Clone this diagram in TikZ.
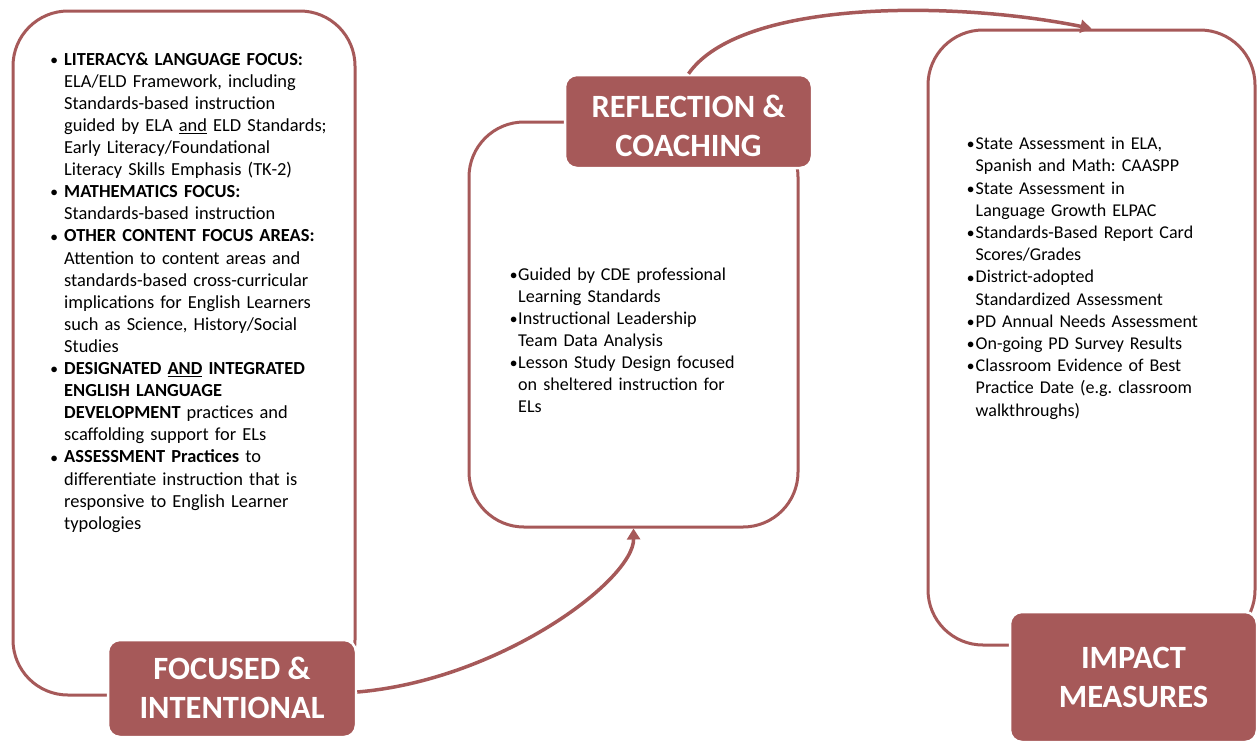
\documentclass[tikz,border=0pt]{standalone}
\usepackage{fontspec}
\setmainfont{Carlito}
\usetikzlibrary{arrows.meta}
\definecolor{brick}{RGB}{166,89,89}
\newcommand\bul[2]{\makebox[#1][l]{\hspace{#2}\raisebox{0.8pt}{\fontsize{14}{14}\selectfont$\bullet$}}}
\newcommand\ind[1]{\hspace*{#1}}
\tikzset{
  outline/.style={draw=brick, line width=3pt, rounded corners=55pt, inner sep=0pt},
  tag/.style={fill=brick, draw=white, line width=2.5pt, rounded corners=12pt, inner sep=0pt},
  tagtext/.style={text=white, font=\bfseries\fontsize{32.5}{39}\selectfont, align=center, inner sep=0pt},
  body/.style={anchor=north west, align=left, inner sep=0pt, text width=340pt,
    font=\fontsize{18.4}{22.1}\selectfont\frenchspacing},
  flow/.style={draw=brick, line width=3.5pt, -{Triangle[width=13pt,length=11pt]}},
}
\begin{document}
\begin{tikzpicture}[x=1pt,y=-1pt]
\useasboundingbox (0,0) rectangle (1257,740);
% outlines
\node[outline, minimum width=342pt, minimum height=684pt] (lbox) at (184,353) {};
\node[outline, minimum width=329pt, minimum height=405pt] (mbox) at (633.5,324.5) {};
\node[outline, minimum width=327pt, minimum height=615pt] (rbox) at (1091.5,337.5) {};
% labels
\node[tag, minimum width=248pt, minimum height=97pt] (fi) at (232,688.5) {};
\node[tagtext] (fit) at (232,688) {FOCUSED \&\\INTENTIONAL};
\node[tag, minimum width=247pt, minimum height=93pt] (rc) at (688.5,121.5) {};
\node[tagtext] (rct) at (688.5,125.5) {REFLECTION \&\\COACHING};
\node[tag, minimum width=247pt, minimum height=130pt] (im) at (1133.5,677) {};
\node[tagtext] (imt) at (1133.5,677) {IMPACT\\MEASURES};
% connectors
\draw[flow] ([yshift=-3.5pt]fi.east) .. controls (500,680) and (634,580) .. (mbox.south);
\draw[flow] (rc.north) .. controls (740,0) and (950,0) .. (rbox.north);
% texts
\node[body] (lt) at (52,49.5) {\strut\bul{12pt}{-1.5pt}\textbf{LITERACY\& LANGUAGE FOCUS:}\\
\ind{12pt}ELA/ELD Framework, including\\
\ind{12pt}Standards-based instruction\\
\ind{12pt}guided by ELA \underline{and} ELD Standards;\\
\ind{12pt}Early Literacy/Foundational\\
\ind{12pt}Literacy Skills Emphasis (TK-2)\\
\bul{12pt}{-1.5pt}\textbf{MATHEMATICS FOCUS:}\\
\ind{12pt}Standards-based instruction\\
\bul{12pt}{-1.5pt}\textbf{OTHER CONTENT FOCUS AREAS:}\\
\ind{12pt}Attention to content areas and\\
\ind{12pt}standards-based cross-curricular\\
\ind{12pt}implications for English Learners\\
\ind{12pt}such as Science, History/Social\\
\ind{12pt}Studies\\
\bul{12pt}{-1.5pt}\textbf{DESIGNATED \underline{AND} INTEGRATED}\\
\ind{12pt}\textbf{ENGLISH LANGUAGE}\\
\ind{12pt}\textbf{DEVELOPMENT} practices and\\
\ind{12pt}scaffolding support for ELs\\
\bul{12pt}{-1.5pt}\textbf{ASSESSMENT Practices} to\\
\ind{12pt}differentiate instruction that is\\
\ind{12pt}responsive to English Learner\\
\ind{12pt}typologies};
\node[body, font=\fontsize{18.1}{22.1}\selectfont\frenchspacing] (mt) at (511,264.5) {\strut\bul{7pt}{-1pt}Guided by CDE professional\\
\ind{7pt}Learning Standards\\
\bul{7pt}{-1pt}Instructional Leadership\\
\ind{7pt}Team Data Analysis\\
\bul{7pt}{-1pt}Lesson Study Design focused\\
\ind{7pt}on sheltered instruction for\\
\ind{7pt}ELs};
\node[body, font=\fontsize{18.0}{22.2}\selectfont\frenchspacing] (rt) at (969,134) {\strut\bul{6.5pt}{-2pt}State Assessment in ELA,\\
\ind{6.5pt}Spanish and Math: CAASPP\\
\bul{6.5pt}{-2pt}State Assessment in\\
\ind{6.5pt}Language Growth ELPAC\\
\bul{6.5pt}{-2pt}Standards-Based Report Card\\
\ind{6.5pt}Scores/Grades\\
\bul{6.5pt}{-2pt}District-adopted\\
\ind{6.5pt}Standardized Assessment\\
\bul{6.5pt}{-2pt}PD Annual Needs Assessment\\
\bul{6.5pt}{-2pt}On-going PD Survey Results\\
\bul{6.5pt}{-2pt}Classroom Evidence of Best\\
\ind{6.5pt}Practice Date (e.g. classroom\\
\ind{6.5pt}walkthroughs)};
\end{tikzpicture}
\end{document}
